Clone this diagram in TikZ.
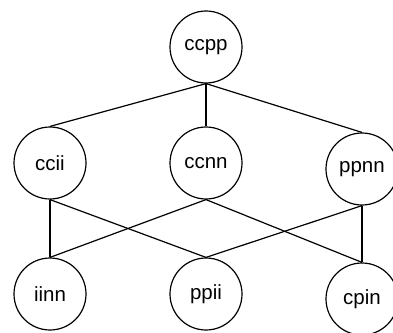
\documentclass[tikz,border=0pt]{standalone}
\usepackage{fontspec}
\setmainfont{Liberation Sans}

\begin{document}
\begin{tikzpicture}[x=1pt,y=-1pt,draw=black,line width=1.2pt,node distance=156pt]
    \tikzstyle{lattice}=[circle,draw,minimum size=72pt,inner sep=0pt,font=\fontsize{20.5}{24}\selectfont]
    \useasboundingbox (0,0) rectangle (393,332);

    % Top element
    \node[lattice] (ccpp) at (206,47) {ccpp};

    % Middle row
    \node[lattice] (ccii) at (50,163) {ccii};
    \node[lattice, right of=ccii] (ccnn) {ccnn};
    \node[lattice, right of=ccnn, yshift=-6pt] (ppnn) {ppnn};

    % Bottom row
    \node[lattice, below of=ccii, node distance=131pt] (iinn) {iinn};
    \node[lattice, below of=ccnn, node distance=131pt] (ppii) {ppii};
    \node[lattice, below of=ppnn, node distance=130pt] (cpin) {cpin};

    % Connect each element with the ones below it
    \foreach \source/\dest in {ccpp/ccii,ccpp/ccnn,ccpp/ppnn,
                               ccii/iinn,ccii/ppii,ccnn/iinn,
                               ccnn/cpin,ppnn/ppii,ppnn/cpin}
        \path (\source.south) edge (\dest.north);
\end{tikzpicture}
\end{document}
